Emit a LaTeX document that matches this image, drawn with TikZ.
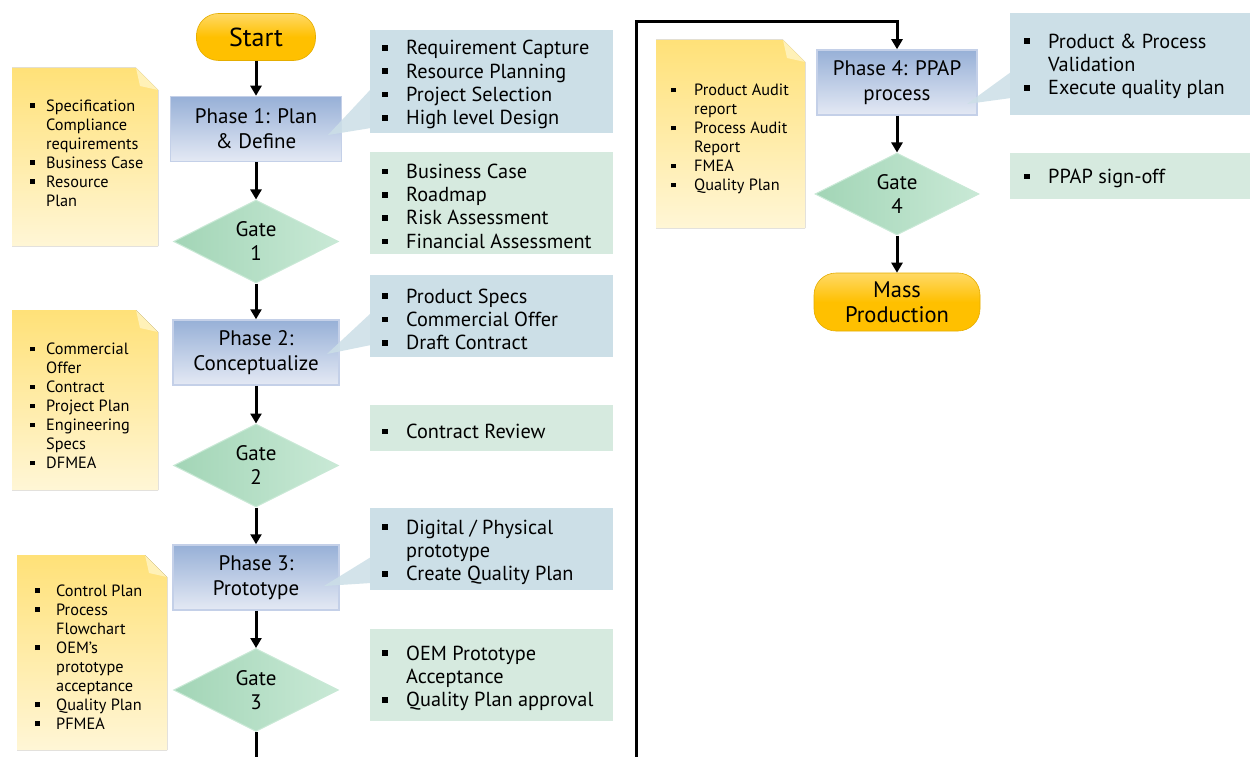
\documentclass[tikz,border=0pt]{standalone}
\usepackage{fontspec}
\setmainfont{PT Sans}
\usetikzlibrary{arrows.meta,shapes.geometric,calc}
\definecolor{pillY}{HTML}{FFC000}
\definecolor{pillYt}{HTML}{FFD966}
\definecolor{phT}{HTML}{97B0D7}
\definecolor{phB}{HTML}{E4E9F4}
\definecolor{phE}{HTML}{C4D0E8}
\definecolor{gtA}{HTML}{A2D5B6}
\definecolor{gtB}{HTML}{C9E9D6}
\definecolor{cBlue}{HTML}{CCDFE7}
\definecolor{cGreen}{HTML}{D6EADF}
\definecolor{ntT}{HTML}{FFE178}
\definecolor{ntB}{HTML}{FFF6D6}
\definecolor{ntF}{HTML}{FFF1B8}
\newcommand\bq[1]{\makebox[#1][l]{\rule[0.2em]{0.28em}{0.28em}}}
\newcommand\hq[1]{\hspace*{#1}}
\tikzset{
  pill/.style={rectangle, rounded corners=22pt, top color=pillYt, bottom color=pillY, middle color=pillY, draw=pillY!90!black, line width=0.6pt, align=center, inner sep=0pt},
  phase/.style={rectangle, top color=phT, bottom color=phB, draw=phE, line width=1.5pt, minimum width=166pt, minimum height=65pt, align=center, inner sep=0pt, font=\fontsize{21}{25}\selectfont},
  gate/.style={diamond, left color=gtA, right color=gtB, draw=gtB, line width=1pt, minimum width=165pt, minimum height=83pt, inner sep=0pt, align=center, font=\fontsize{21}{24}\selectfont},
  cboxb/.style={rectangle, fill=cBlue, anchor=north west, minimum width=243pt, inner sep=0pt},
  cboxg/.style={cboxb, fill=cGreen},
  ctxt/.style={anchor=west, align=left, inner sep=0pt, font=\fontsize{20.3}{23.3}\selectfont},
  wedge/.style={fill=cBlue, opacity=0.85},
  notebg/.style={top color=ntT, bottom color=ntB},
  notefold/.style={fill=ntF},
  notetxt/.style={anchor=west, align=left, inner sep=0pt, font=\fontsize{16.3}{19}\selectfont},
  conn/.style={line width=3pt, -{Triangle[width=11pt,length=10pt]}},
  plain/.style={line width=3pt}
}
\begin{document}
\begin{tikzpicture}[x=1pt,y=-1pt]
\useasboundingbox (0,0) rectangle (1250,757);
\fill[white] (0,0) rectangle (1250,757);

% sticky notes
\fill[notebg] (12,68) -- (136,68) -- (158,90) -- (158,246) -- (12,246) -- cycle;
\fill[notefold] (136,68) -- (158,90) -- (140,86) -- cycle;
\fill[notebg] (12,310) -- (136,310) -- (158,332) -- (158,490) -- (12,490) -- cycle;
\fill[notefold] (136,310) -- (158,332) -- (140,328) -- cycle;
\fill[notebg] (17,555) -- (145,555) -- (167,577) -- (167,750) -- (17,750) -- cycle;
\fill[notefold] (145,555) -- (167,577) -- (149,573) -- cycle;
\fill[notebg] (656,40) -- (783,40) -- (805,62) -- (805,228) -- (656,228) -- cycle;
\fill[notefold] (783,40) -- (805,62) -- (787,58) -- cycle;

\node[notetxt] (n1) at (30,153) {\bq{16pt}Specification\\ \hq{16pt}Compliance\\ \hq{16pt}requirements\\ \bq{16pt}Business Case\\ \bq{16pt}Resource\\ \hq{16pt}Plan};
\node[notetxt] (n2) at (30,406) {\bq{16pt}Commercial\\ \hq{16pt}Offer\\ \bq{16pt}Contract\\ \bq{16pt}Project Plan\\ \bq{16pt}Engineering\\ \hq{16pt}Specs\\ \bq{16pt}DFMEA};
\node[notetxt] (n3) at (35,657) {\bq{21pt}Control Plan\\ \bq{21pt}Process\\ \hq{21pt}Flowchart\\ \bq{21pt}OEM’s\\ \hq{21pt}prototype\\ \hq{21pt}acceptance\\ \bq{21pt}Quality Plan\\ \bq{21pt}PFMEA};
\node[notetxt] (n4) at (671,139) {\bq{23pt}Product Audit\\ \hq{23pt}report\\ \bq{23pt}Process Audit\\ \hq{23pt}Report\\ \bq{23pt}FMEA\\ \bq{23pt}Quality Plan};

% callout boxes
\node[cboxb, minimum height=103pt] (c1box) at (370,30) {};
\node[cboxg, minimum height=102pt] (g1box) at (370,152) {};
\node[cboxb, minimum height=82pt] (c2box) at (370,275) {};
\node[cboxg, minimum height=46pt] (g2box) at (370,405) {};
\node[cboxb, minimum height=82pt] (c3box) at (370,508) {};
\node[cboxg, minimum height=92pt] (g3box) at (370,629) {};
\node[cboxb, minimum height=102pt, minimum width=240pt] (c4box) at (1010,13) {};
\node[cboxg, minimum height=46pt, minimum width=240pt] (g4box) at (1010,153) {};

% callout texts
\node[ctxt] (c1) at ($(c1box.west)+(12,3)$) {\bq{24pt}Requirement Capture\\ \bq{24pt}Resource Planning\\ \bq{24pt}Project Selection\\ \bq{24pt}High level Design};
\node[ctxt] (g1t) at ($(g1box.west)+(12,3)$) {\bq{24pt}Business Case\\ \bq{24pt}Roadmap\\ \bq{24pt}Risk Assessment\\ \bq{24pt}Financial Assessment};
\node[ctxt] (c2) at ($(c2box.west)+(12,3)$) {\bq{24pt}Product Specs\\ \bq{24pt}Commercial Offer\\ \bq{24pt}Draft Contract};
\node[ctxt] (g2t) at ($(g2box.west)+(12,3)$) {\bq{24pt}Contract Review};
\node[ctxt] (c3) at ($(c3box.west)+(12,3)$) {\bq{24pt}Digital / Physical\\ \hq{24pt}prototype\\ \bq{24pt}Create Quality Plan};
\node[ctxt] (g3t) at ($(g3box.west)+(12,3)$) {\bq{24pt}OEM Prototype\\ \hq{24pt}Acceptance\\ \bq{24pt}Quality Plan approval};
\node[ctxt] (c4) at ($(c4box.west)+(14,2)$) {\bq{24pt}Product \& Process\\ \hq{24pt}Validation\\ \bq{24pt}Execute quality plan};
\node[ctxt] (g4t) at ($(g4box.west)+(14,2)$) {\bq{24pt}PPAP sign-off};

% flow nodes
\node[pill, minimum width=119pt, minimum height=47pt, font=\fontsize{26}{30}\selectfont] (start) at (256,37) {Start};
\node[phase, minimum width=171pt] (p1) at (256,129) {Phase 1: Plan\\ \& Define};
\node[gate] (g1) at (256,241.5) {Gate\\ 1};
\node[phase] (p2) at (256,352.5) {Phase 2:\\ Conceptualize};
\node[gate] (g2) at (256,465.5) {Gate\\ 2};
\node[phase] (p3) at (256,577.5) {Phase 3:\\ Prototype};
\node[gate] (g3) at (256,690) {Gate\\ 3};
\node[phase, minimum width=160pt] (p4) at (897,82.5) {Phase 4: PPAP\\ process};
\node[gate, minimum width=164pt, minimum height=82pt] (g4) at (897,194) {Gate\\ 4};
\node[pill, minimum width=166pt, minimum height=58pt, font=\fontsize{22.5}{25}\selectfont] (mass) at (897,302) {Mass\\ Production};

% callout pointers
\fill[wedge] (371,89) -- (328,135) -- (371,128) -- cycle;
\fill[wedge] (371,313) -- (327,354) -- (371,345) -- cycle;
\fill[wedge] (371,557) -- (324,586) -- (371,583) -- cycle;
\fill[wedge] (1011,72) -- (967,104) -- (1011,98) -- cycle;

% connectors
\coordinate (b1) at (256,757);
\coordinate (b2) at (636,757);
\coordinate (tl) at (636,22);
\draw[conn] (start) -- (p1);
\draw[conn] (p1) -- (g1);
\draw[conn] (g1) -- (p2);
\draw[conn] (p2) -- (g2);
\draw[conn] (g2) -- (p3);
\draw[conn] (p3) -- (g3);
\draw[plain] (g3) -- (b1);
\draw[conn] (b2) -- (tl) -| (p4);
\draw[conn] (p4) -- (g4);
\draw[conn] (g4) -- (mass);
\end{tikzpicture}
\end{document}
